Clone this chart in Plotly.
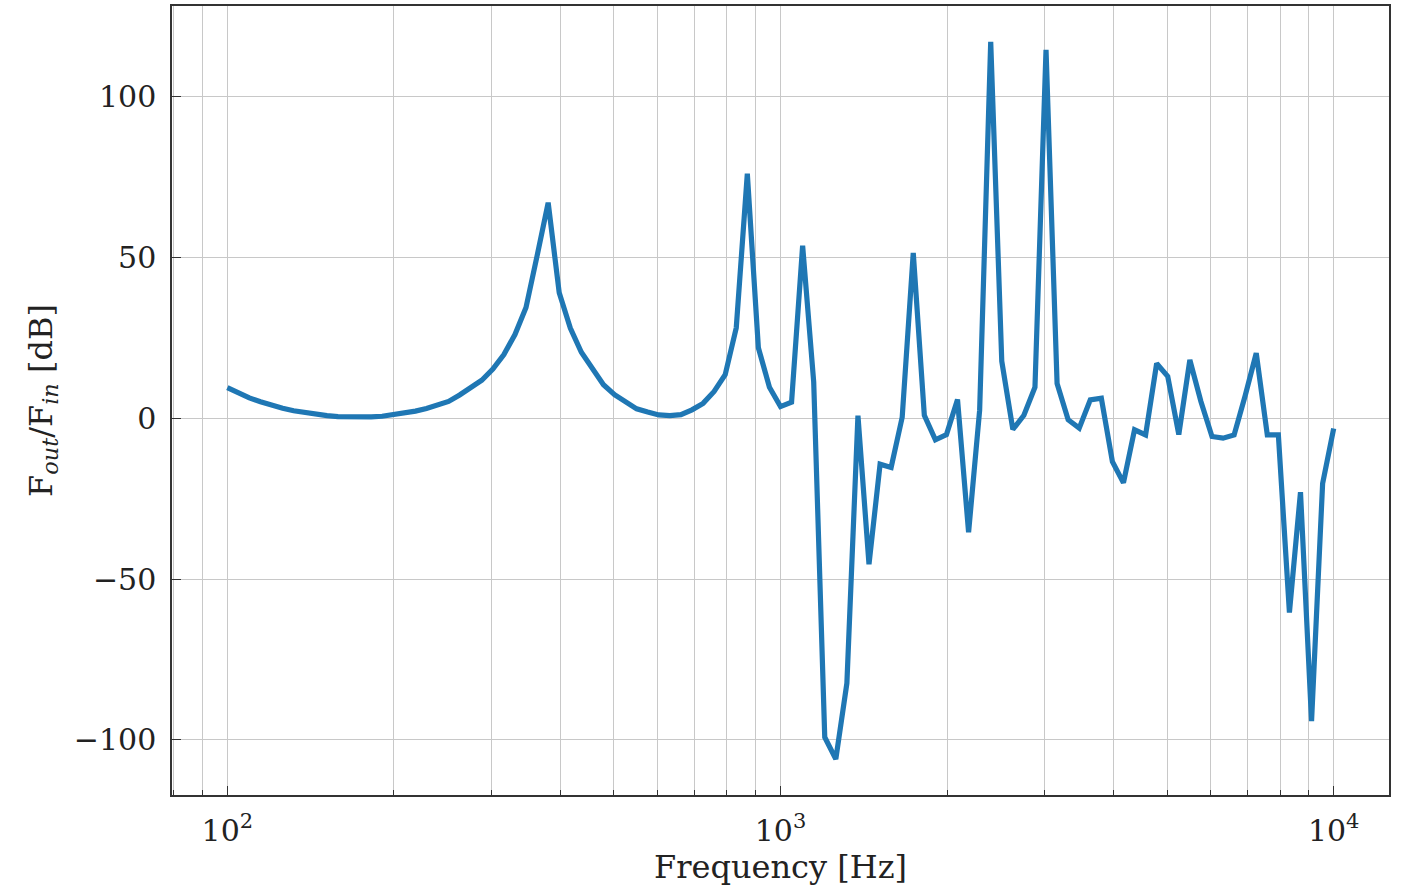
import plotly.graph_objects as go

# Frequency grid [Hz] (log-spaced, 0.02 decade steps)
freq_hz = [
    100.0, 104.7, 109.6, 114.8, 120.2, 125.9, 131.8, 138.0, 144.5, 151.4,
    158.5, 166.0, 173.8, 182.0, 190.5, 199.5, 208.9, 218.8, 229.1, 239.9,
    251.2, 263.0, 275.4, 288.4, 302.0, 316.2, 331.1, 346.7, 363.1, 380.2,
    398.1, 416.9, 436.5, 457.1, 478.6, 501.2, 524.8, 549.5, 575.4, 602.6,
    631.0, 660.7, 691.8, 724.4, 758.6, 794.3, 831.8, 871.0, 912.0, 955.0,
    1000.0, 1047.1, 1096.5, 1148.2, 1202.3, 1258.9, 1318.3, 1380.4, 1445.4, 1513.6,
    1584.9, 1659.6, 1737.8, 1819.7, 1905.5, 1995.3, 2089.3, 2187.8, 2290.9, 2398.8,
    2511.9, 2630.3, 2754.2, 2884.0, 3019.9, 3162.3, 3311.3, 3467.4, 3630.8, 3801.9,
    3981.1, 4168.7, 4365.2, 4570.9, 4786.3, 5011.9, 5248.1, 5495.4, 5754.4, 6025.6,
    6309.6, 6606.9, 6918.3, 7244.4, 7585.8, 7943.3, 8317.6, 8709.6, 9120.1, 9549.9,
    10000.0,
]

# Fout/Fin [dB]
gain_db = [
    9.5, 7.8, 6.3, 5.1, 4.0, 3.1, 2.3, 1.7, 1.2, 0.8,
    0.5, 0.35, 0.3, 0.4, 0.6, 1.0, 1.5, 2.2, 3.0, 3.9,
    5.2, 7.2, 9.3, 11.8, 15.3, 19.8, 26.0, 34.4, 50.5, 67.0,
    39.0, 28.0, 20.5, 15.1, 10.4, 7.3, 5.0, 2.9, 1.9, 1.0,
    0.8, 1.1, 2.6, 4.6, 8.3, 13.5, 28.1, 76.0, 21.9, 9.6,
    3.6, 5.0, 53.6, 11.3, -99.2, -106.0, -82.4, 0.8, -45.4, -14.3,
    -15.3, 0.3, 51.4, 0.9, -6.7, -5.1, 5.8, -35.5, 2.5, 117.0,
    17.7, -3.5, 0.9, 9.6, 114.5, 10.8, -0.5, -3.1, 5.7, 6.2,
    -13.5, -20.1, -3.6, -5.2, 17.0, 13.0, -5.1, 18.1, 5.2, -5.7,
    -6.2, -5.2, 7.0, 20.2, -5.2, -5.2, -60.4, -23.0, -94.2, -20.3,
    -3.2,
]

x_major_vals = [100, 1000, 10000]
x_major_text = ["10<sup>2</sup>", "10<sup>3</sup>", "10<sup>4</sup>"]
x_minor_vals = [m * d for d in (10, 100, 1000, 10000) for m in range(2, 10)]
y_tick_vals = [-100, -50, 0, 50, 100]
y_tick_text = ["\u2212100", "\u221250", "0", "50", "100"]

FONT = "DejaVu Serif"
GRID = "#c8c8c8"

# 5% margins like the source (matplotlib default)
ymin, ymax = min(gain_db), max(gain_db)
ypad = 0.05 * (ymax - ymin)

fig = go.Figure()
fig.add_trace(go.Scatter(
    x=freq_hz, y=gain_db, mode="lines",
    line=dict(color="#1f77b4", width=5.2),
    showlegend=False,
))

fig.update_layout(
    width=1401, height=894,
    margin=dict(l=172, r=12, t=4, b=99),
    paper_bgcolor="white", plot_bgcolor="white",
    font=dict(family=FONT, color="#222222", size=30),
    xaxis=dict(
        type="log", range=[1.9, 4.1],
        tickvals=x_major_vals, ticktext=x_major_text,
        ticks="inside", ticklen=9, tickwidth=1.2, tickcolor="#333333",
        showgrid=True, gridcolor=GRID, gridwidth=1.2,
        minor=dict(tickvals=x_minor_vals, ticks="inside", ticklen=5,
                   tickwidth=1, tickcolor="#333333",
                   showgrid=True, gridcolor=GRID, gridwidth=1.2),
        showline=True, linecolor="#333333", linewidth=1.5, mirror=True,
        zeroline=False,
        tickfont=dict(size=30),
        ticklabelstandoff=8,
        title=dict(text="Frequency [Hz]", font=dict(size=32), standoff=6),
    ),
    yaxis=dict(
        range=[ymin - ypad, ymax + ypad],
        tickvals=y_tick_vals, ticktext=y_tick_text,
        ticks="inside", ticklen=9, tickwidth=1.2, tickcolor="#333333",
        showgrid=True, gridcolor=GRID, gridwidth=1.2,
        showline=True, linecolor="#333333", linewidth=1.5, mirror=True,
        zeroline=False,
        tickfont=dict(size=30),
        ticklabelstandoff=8,
        title=dict(text="F<sub><i>out</i></sub>/F<sub><i>in</i></sub> [dB]",
                   font=dict(size=32), standoff=12),
    ),
)

fig.write_html("out.html")
